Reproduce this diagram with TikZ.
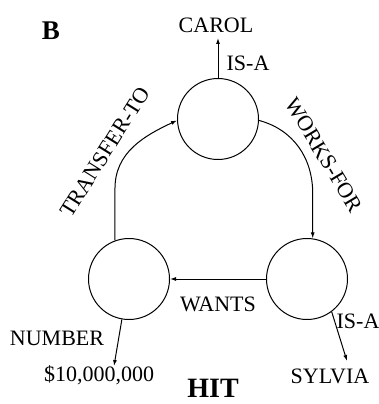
\documentclass[tikz,border=0pt]{standalone}
\usepackage{fontspec}
\setmainfont{Liberation Serif}
\usetikzlibrary{arrows.meta}

\begin{document}
\begin{tikzpicture}[x=1pt,y=-1pt,
  concept/.style={circle,draw,line width=1pt,minimum size=81pt,inner sep=0pt},
  word/.style={font=\fontsize{22}{26}\selectfont,inner sep=1pt},
  link/.style={line width=1pt,-{Latex[length=6pt,width=4pt]}}]
  \useasboundingbox (0,0) rectangle (379,404);
  % Panel letter and caption
  \node[font=\fontsize{27}{30}\selectfont\bfseries] (panel) at (51,31) {B};
  \node[font=\fontsize{28}{30}\selectfont\bfseries] (hit) at (213,388) {HIT};
  % The three concept circles
  \node[concept] (carol) at (218,119) {};
  \node[concept] (money) at (129,279) {};
  \node[concept] (sylvia) at (307,279) {};
  % Names hanging off the circles
  \node[word] (carolname) at (216,25) {CAROL};
  \node[word] (sylvianame) at (330,376) {SYLVIA};
  \node[word] (amount) at (99,375) {\$10,000,000};
  \coordinate (carolend) at (218,38);
  \coordinate (sylviaend) at (347,361);
  \coordinate (amountend) at (114,366);
  % Relations between the circles
  \draw[link] (money.110) -- ([yshift=52pt]money.110)
    to[out=90,in=205] (carol.182);
  \draw[link] (carol.-2) to[out=-15,in=90] ([yshift=45pt]sylvia.82)
    -- (sylvia.82);
  \draw[link] (sylvia.180) -- (money.0);
  \draw[link] (carol.90) -- (carolend);
  \draw[link] (sylvia.-53) -- (sylviaend);
  \draw[link] (money.260) -- (amountend);
  % Relation labels
  \node[word,rotate=58] (transfer) at (105,152) {TRANSFER-TO};
  \node[word,rotate=-59] (works) at (324,155) {WORKS-FOR};
  \node[word] (wants) at (218,304) {WANTS};
  \node[word] (isatop) at (248,63) {IS-A};
  \node[word] (isaright) at (358,321) {IS-A};
  \node[word] (number) at (57,338) {NUMBER};
\end{tikzpicture}
\end{document}
